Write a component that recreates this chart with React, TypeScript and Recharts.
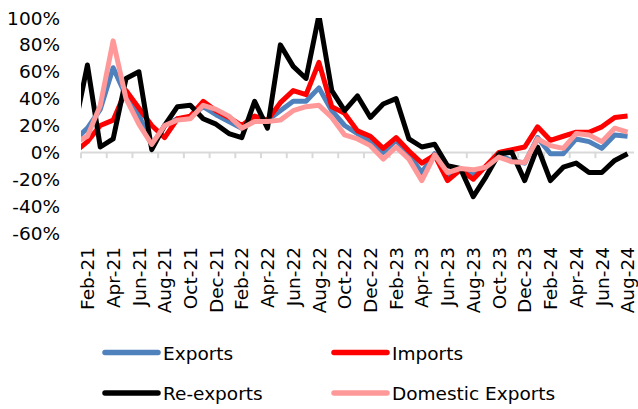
import React from 'react';
import { LineChart, Line, XAxis, YAxis, ReferenceLine } from 'recharts';

// Jan-21 sits just left of the axis; only its slope into Feb-21 shows
const months = [
    'Jan-21', 'Feb-21', 'Mar-21', 'Apr-21', 'May-21', 'Jun-21', 'Jul-21', 'Aug-21', 'Sep-21', 'Oct-21', 'Nov-21', 'Dec-21',
    'Jan-22', 'Feb-22', 'Mar-22', 'Apr-22', 'May-22', 'Jun-22', 'Jul-22', 'Aug-22', 'Sep-22', 'Oct-22', 'Nov-22', 'Dec-22',
    'Jan-23', 'Feb-23', 'Mar-23', 'Apr-23', 'May-23', 'Jun-23', 'Jul-23', 'Aug-23', 'Sep-23', 'Oct-23', 'Nov-23', 'Dec-23',
    'Jan-24', 'Feb-24', 'Mar-24', 'Apr-24', 'May-24', 'Jun-24', 'Jul-24', 'Aug-24',
];

const exportsYoY = [
    9, 18, 32, 63, 42, 28, 5, 20, 25, 26, 34, 28,
    23, 18, 25, 24, 31, 38, 38, 48, 31, 20, 14, 8,
    0, 9, -2, -15, -1, -17, -13, -16, -11, -2, -6, -8,
    11, -1, -1, 10, 8, 3, 13, 12,
];

const importsYoY = [
    0, 8, 20, 24, 46, 33, 20, 11, 25, 27, 38, 31,
    26, 20, 27, 24, 37, 46, 43, 67, 34, 29, 16, 12,
    3, 11, 1, -8, -2, -21, -13, -20, -10, 0, 2, 4,
    19, 9, 12, 15, 15, 19, 26, 27,
];

const reExportsYoY = [
    18, 65, 4, 10, 55, 60, 2, 20, 34, 35, 25, 21,
    14, 11, 38, 18, 80, 64, 55, 102, 46, 31, 42, 26,
    36, 40, 10, 4, 6, -10, -12, -33, -18, -1, 0, -21,
    4, -21, -11, -8, -15, -15, -6, -1,
];

const domesticExportsYoY = [
    7, 12, 35, 83, 40, 21, 6, 20, 24, 25, 35, 32,
    27, 18, 23, 23, 24, 31, 34, 35, 26, 13, 10, 5,
    -5, 4, -5, -21, -2, -15, -12, -13, -11, -3.5, -7, -7.5,
    10, 5, 3, 14, 13, 8, 18, 15,
];

const yTicks = [-60, -40, -20, 0, 20, 40, 60, 80, 100];

const series = [
    { key: 'exports', name: 'Exports', color: '#4F81BD' },
    { key: 'imports', name: 'Imports', color: '#FF0000' },
    { key: 'reExports', name: 'Re-exports', color: '#000000' },
    { key: 'domestic', name: 'Domestic Exports', color: '#FF9999' },
];

const data = months.map((m, i) => ({
    idx: i,
    month: m,
    exports: exportsYoY[i],
    imports: importsYoY[i],
    reExports: reExportsYoY[i],
    domestic: domesticExportsYoY[i],
}));

// every second month gets a label, starting at Feb-21
const xTicks = data.filter((d) => d.idx % 2 === 1).map((d) => d.idx);

const FONT = '"DejaVu Sans", Verdana, sans-serif';

const MonthTick = ({ x, y, payload }: any) => (
    <text
        x={x}
        y={y}
        dy="0.36em"
        transform={`rotate(-90, ${x}, ${y})`}
        textAnchor="end"
        fontSize={18.5}
        fontFamily={FONT}
        fill="#000"
    >
        {months[payload.value]}
    </text>
);

export default function App() {
    return (
        <div style={{ position: 'absolute', left: 0, top: 0, width: 638, height: 409, background: '#fff' }}>
            <LineChart
                width={638}
                height={409}
                data={data}
                margin={{ top: 18, right: 4, left: 0, bottom: 86 }}
            >
                <XAxis
                    dataKey="idx"
                    type="number"
                    domain={[0.5, 43.5]}
                    allowDataOverflow
                    ticks={xTicks}
                    interval={0}
                    axisLine={false}
                    tickLine={false}
                    tickMargin={8}
                    height={90}
                    tick={<MonthTick />}
                />
                <YAxis
                    type="number"
                    domain={[-60, 100]}
                    allowDataOverflow
                    ticks={yTicks}
                    interval={0}
                    width={81}
                    axisLine={false}
                    tickLine={false}
                    tickMargin={15}
                    tickFormatter={(v: number) => `${v}%`}
                    tick={{ fontSize: 18.5, fontFamily: FONT, fill: '#000' }}
                />
                <ReferenceLine y={0} stroke="#D9D9D9" strokeWidth={2} />
                {xTicks.map((t) => (
                    <ReferenceLine
                        key={t}
                        segment={[{ x: t - 0.5, y: 0 }, { x: t - 0.5, y: -4.3 }]}
                        stroke="#D9D9D9"
                        strokeWidth={2}
                    />
                ))}
                {series.map((s) => (
                    <Line
                        key={s.key}
                        type="linear"
                        dataKey={s.key}
                        name={s.name}
                        stroke={s.color}
                        strokeWidth={5}
                        strokeLinejoin="round"
                        dot={false}
                        activeDot={false}
                        isAnimationActive={false}
                    />
                ))}
            </LineChart>
            <svg
                width={638}
                height={409}
                style={{ position: 'absolute', left: 0, top: 0, pointerEvents: 'none' }}
            >
                {series.map((s, i) => {
                    const col = i === 1 || i === 3 ? 1 : 0;
                    const row = i >= 2 ? 1 : 0;
                    const x0 = col === 0 ? 103 : 332;
                    const cy = row === 0 ? 352.5 : 393;
                    return (
                        <g key={s.key}>
                            <line
                                x1={x0 + 2}
                                x2={x0 + 55}
                                y1={cy}
                                y2={cy}
                                stroke={s.color}
                                strokeWidth={5.5}
                                strokeLinecap="round"
                            />
                            <text x={x0 + 60} y={cy + 7} fontSize={18.5} fontFamily={FONT} fill="#000">
                                {s.name}
                            </text>
                        </g>
                    );
                })}
            </svg>
        </div>
    );
}
